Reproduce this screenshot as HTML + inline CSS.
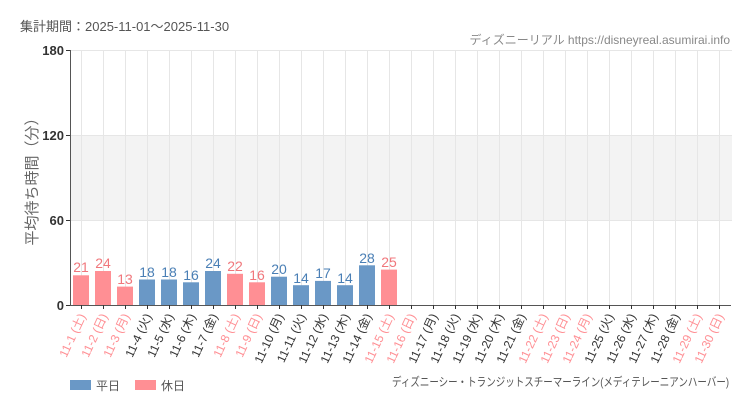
<!DOCTYPE html>
<html><head><meta charset="utf-8"><style>
html,body{margin:0;padding:0;background:#fff;}
svg{display:block;font-family:"Liberation Sans","Noto Sans CJK JP",sans-serif;}
.v{font-family:"Liberation Sans Narrow","Liberation Sans","Noto Sans CJK JP",sans-serif;font-size:14px;text-anchor:middle;}
.xl{font-size:12px;text-anchor:end;}
</style></head><body>
<svg width="750" height="410" viewBox="0 0 750 410">
<text x="20" y="31" font-size="13" fill="#555">集計期間：2025-11-01～2025-11-30</text>
<text x="730" y="44" font-size="12" fill="#888" text-anchor="end" font-family="'Liberation Sans Narrow','Liberation Sans','Noto Sans CJK JP',sans-serif">ディズニーリアル https://disneyreal.asumirai.info</text>
<rect x="71" y="135" width="661" height="85" fill="#f3f3f3"/>
<g stroke="#e6e6e6" stroke-width="1">
<line x1="71" y1="50.5" x2="732" y2="50.5"/><line x1="71" y1="135.5" x2="732" y2="135.5"/><line x1="71" y1="220.5" x2="732" y2="220.5"/>
<line x1="81.5" y1="50" x2="81.5" y2="305"/><line x1="103.5" y1="50" x2="103.5" y2="305"/><line x1="125.5" y1="50" x2="125.5" y2="305"/><line x1="147.5" y1="50" x2="147.5" y2="305"/><line x1="169.5" y1="50" x2="169.5" y2="305"/><line x1="191.5" y1="50" x2="191.5" y2="305"/><line x1="213.5" y1="50" x2="213.5" y2="305"/><line x1="235.5" y1="50" x2="235.5" y2="305"/><line x1="257.5" y1="50" x2="257.5" y2="305"/><line x1="279.5" y1="50" x2="279.5" y2="305"/><line x1="301.5" y1="50" x2="301.5" y2="305"/><line x1="323.5" y1="50" x2="323.5" y2="305"/><line x1="345.5" y1="50" x2="345.5" y2="305"/><line x1="367.5" y1="50" x2="367.5" y2="305"/><line x1="389.5" y1="50" x2="389.5" y2="305"/><line x1="411.5" y1="50" x2="411.5" y2="305"/><line x1="433.5" y1="50" x2="433.5" y2="305"/><line x1="455.5" y1="50" x2="455.5" y2="305"/><line x1="477.5" y1="50" x2="477.5" y2="305"/><line x1="499.5" y1="50" x2="499.5" y2="305"/><line x1="521.5" y1="50" x2="521.5" y2="305"/><line x1="543.5" y1="50" x2="543.5" y2="305"/><line x1="565.5" y1="50" x2="565.5" y2="305"/><line x1="587.5" y1="50" x2="587.5" y2="305"/><line x1="609.5" y1="50" x2="609.5" y2="305"/><line x1="631.5" y1="50" x2="631.5" y2="305"/><line x1="653.5" y1="50" x2="653.5" y2="305"/><line x1="675.5" y1="50" x2="675.5" y2="305"/><line x1="697.5" y1="50" x2="697.5" y2="305"/><line x1="719.5" y1="50" x2="719.5" y2="305"/>
</g>
<g>
<rect x="73" y="275.3" width="16" height="29.7" fill="#ff8f94"/>
<rect x="95" y="271" width="16" height="34" fill="#ff8f94"/>
<rect x="117" y="286.6" width="16" height="18.4" fill="#ff8f94"/>
<rect x="139" y="279.5" width="16" height="25.5" fill="#6a98c6"/>
<rect x="161" y="279.5" width="16" height="25.5" fill="#6a98c6"/>
<rect x="183" y="282.3" width="16" height="22.7" fill="#6a98c6"/>
<rect x="205" y="271" width="16" height="34" fill="#6a98c6"/>
<rect x="227" y="273.8" width="16" height="31.2" fill="#ff8f94"/>
<rect x="249" y="282.3" width="16" height="22.7" fill="#ff8f94"/>
<rect x="271" y="276.7" width="16" height="28.3" fill="#6a98c6"/>
<rect x="293" y="285.2" width="16" height="19.8" fill="#6a98c6"/>
<rect x="315" y="280.9" width="16" height="24.1" fill="#6a98c6"/>
<rect x="337" y="285.2" width="16" height="19.8" fill="#6a98c6"/>
<rect x="359" y="265.3" width="16" height="39.7" fill="#6a98c6"/>
<rect x="381" y="269.6" width="16" height="35.4" fill="#ff8f94"/>
</g>
<g class="v">
<text x="81" y="272" fill="#f0777c">21</text><text x="103" y="268" fill="#f0777c">24</text><text x="125" y="284" fill="#f0777c">13</text>
<text x="147" y="277" fill="#4a7fb5">18</text><text x="169" y="277" fill="#4a7fb5">18</text><text x="191" y="280" fill="#4a7fb5">16</text><text x="213" y="268" fill="#4a7fb5">24</text>
<text x="235" y="271" fill="#f0777c">22</text><text x="257" y="280" fill="#f0777c">16</text>
<text x="279" y="274" fill="#4a7fb5">20</text><text x="301" y="283" fill="#4a7fb5">14</text><text x="323" y="278" fill="#4a7fb5">17</text><text x="345" y="283" fill="#4a7fb5">14</text><text x="367" y="263" fill="#4a7fb5">28</text>
<text x="389" y="267" fill="#f0777c">25</text>
</g>
<line x1="70.5" y1="50" x2="70.5" y2="305" stroke="#555"/>
<line x1="70" y1="305.5" x2="731" y2="305.5" stroke="#555"/>
<g stroke="#333"><line x1="66" y1="50.5" x2="70" y2="50.5"/><line x1="66" y1="135.5" x2="70" y2="135.5"/><line x1="66" y1="220.5" x2="70" y2="220.5"/><line x1="66" y1="305.5" x2="70" y2="305.5"/></g>
<g stroke="#333">
<line x1="81.5" y1="305" x2="81.5" y2="309"/><line x1="103.5" y1="305" x2="103.5" y2="309"/><line x1="125.5" y1="305" x2="125.5" y2="309"/><line x1="147.5" y1="305" x2="147.5" y2="309"/><line x1="169.5" y1="305" x2="169.5" y2="309"/><line x1="191.5" y1="305" x2="191.5" y2="309"/><line x1="213.5" y1="305" x2="213.5" y2="309"/><line x1="235.5" y1="305" x2="235.5" y2="309"/><line x1="257.5" y1="305" x2="257.5" y2="309"/><line x1="279.5" y1="305" x2="279.5" y2="309"/><line x1="301.5" y1="305" x2="301.5" y2="309"/><line x1="323.5" y1="305" x2="323.5" y2="309"/><line x1="345.5" y1="305" x2="345.5" y2="309"/><line x1="367.5" y1="305" x2="367.5" y2="309"/><line x1="389.5" y1="305" x2="389.5" y2="309"/><line x1="411.5" y1="305" x2="411.5" y2="309"/><line x1="433.5" y1="305" x2="433.5" y2="309"/><line x1="455.5" y1="305" x2="455.5" y2="309"/><line x1="477.5" y1="305" x2="477.5" y2="309"/><line x1="499.5" y1="305" x2="499.5" y2="309"/><line x1="521.5" y1="305" x2="521.5" y2="309"/><line x1="543.5" y1="305" x2="543.5" y2="309"/><line x1="565.5" y1="305" x2="565.5" y2="309"/><line x1="587.5" y1="305" x2="587.5" y2="309"/><line x1="609.5" y1="305" x2="609.5" y2="309"/><line x1="631.5" y1="305" x2="631.5" y2="309"/><line x1="653.5" y1="305" x2="653.5" y2="309"/><line x1="675.5" y1="305" x2="675.5" y2="309"/><line x1="697.5" y1="305" x2="697.5" y2="309"/><line x1="719.5" y1="305" x2="719.5" y2="309"/>
</g>
<g font-size="13" fill="#333" text-anchor="end" font-weight="bold">
<text x="64" y="55">180</text><text x="64" y="140">120</text><text x="64" y="225">60</text><text x="64" y="310">0</text>
</g>
<text transform="translate(37,178) rotate(-90)" font-size="15" fill="#666" text-anchor="middle">平均待ち時間（分）</text>
<g class="xl">
<text transform="translate(86,316) rotate(-65)" fill="#ff8f94">11-1 (土)</text>
<text transform="translate(108,316) rotate(-65)" fill="#ff8f94">11-2 (日)</text>
<text transform="translate(130,316) rotate(-65)" fill="#ff8f94">11-3 (月)</text>
<text transform="translate(152,316) rotate(-65)" fill="#333">11-4 (火)</text>
<text transform="translate(174,316) rotate(-65)" fill="#333">11-5 (水)</text>
<text transform="translate(196,316) rotate(-65)" fill="#333">11-6 (木)</text>
<text transform="translate(218,316) rotate(-65)" fill="#333">11-7 (金)</text>
<text transform="translate(240,316) rotate(-65)" fill="#ff8f94">11-8 (土)</text>
<text transform="translate(262,316) rotate(-65)" fill="#ff8f94">11-9 (日)</text>
<text transform="translate(284,316) rotate(-65)" fill="#333">11-10 (月)</text>
<text transform="translate(306,316) rotate(-65)" fill="#333">11-11 (火)</text>
<text transform="translate(328,316) rotate(-65)" fill="#333">11-12 (水)</text>
<text transform="translate(350,316) rotate(-65)" fill="#333">11-13 (木)</text>
<text transform="translate(372,316) rotate(-65)" fill="#333">11-14 (金)</text>
<text transform="translate(394,316) rotate(-65)" fill="#ff8f94">11-15 (土)</text>
<text transform="translate(416,316) rotate(-65)" fill="#ff8f94">11-16 (日)</text>
<text transform="translate(438,316) rotate(-65)" fill="#333">11-17 (月)</text>
<text transform="translate(460,316) rotate(-65)" fill="#333">11-18 (火)</text>
<text transform="translate(482,316) rotate(-65)" fill="#333">11-19 (水)</text>
<text transform="translate(504,316) rotate(-65)" fill="#333">11-20 (木)</text>
<text transform="translate(526,316) rotate(-65)" fill="#333">11-21 (金)</text>
<text transform="translate(548,316) rotate(-65)" fill="#ff8f94">11-22 (土)</text>
<text transform="translate(570,316) rotate(-65)" fill="#ff8f94">11-23 (日)</text>
<text transform="translate(592,316) rotate(-65)" fill="#ff8f94">11-24 (月)</text>
<text transform="translate(614,316) rotate(-65)" fill="#333">11-25 (火)</text>
<text transform="translate(636,316) rotate(-65)" fill="#333">11-26 (水)</text>
<text transform="translate(658,316) rotate(-65)" fill="#333">11-27 (木)</text>
<text transform="translate(680,316) rotate(-65)" fill="#333">11-28 (金)</text>
<text transform="translate(702,316) rotate(-65)" fill="#ff8f94">11-29 (土)</text>
<text transform="translate(724,316) rotate(-65)" fill="#ff8f94">11-30 (日)</text>
</g>
<rect x="70" y="380" width="21" height="10" fill="#6a98c6"/>
<text x="96" y="390" font-size="12" fill="#555">平日</text>
<rect x="135" y="380" width="21" height="10" fill="#ff8f94"/>
<text x="161" y="390" font-size="12" fill="#555">休日</text>
<text x="729" y="386" font-size="12" fill="#555" text-anchor="end" textLength="337" lengthAdjust="spacingAndGlyphs">ディズニーシー・トランジットスチーマーライン(メディテレーニアンハーバー)</text>
</svg>
</body></html>
